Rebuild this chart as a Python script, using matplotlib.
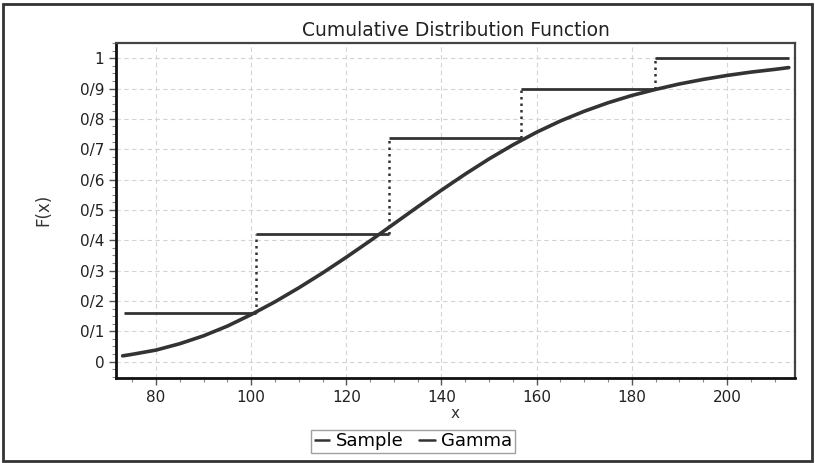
import matplotlib
matplotlib.use("Agg")
import matplotlib.pyplot as plt
from matplotlib.ticker import MultipleLocator, FixedLocator
from matplotlib.patches import Rectangle

plt.rcParams['font.family'] = ['DejaVu Sans']

# Sample (empirical) step CDF
step_edges = [73.3, 101.0, 128.9, 156.7, 184.8, 213.0]
step_levels = [0.159, 0.422, 0.738, 0.897, 1.0]

# Fitted Gamma CDF
gamma_x = [73, 75, 80, 85, 90, 95, 100, 105, 110, 115, 120, 125, 130, 135, 140,
           145, 150, 155, 160, 165, 170, 175, 180, 185, 190, 195, 200, 205,
           210, 213]
gamma_y = [0.019, 0.024, 0.038, 0.059, 0.085, 0.117, 0.155, 0.197, 0.243,
           0.292, 0.344, 0.398, 0.454, 0.510, 0.565, 0.618, 0.668, 0.714,
           0.756, 0.793, 0.825, 0.853, 0.877, 0.897, 0.915, 0.930, 0.943,
           0.954, 0.963, 0.969]

xticks = [80, 100, 120, 140, 160, 180, 200]
yticks = [0, 0.1, 0.2, 0.3, 0.4, 0.5, 0.6, 0.7, 0.8, 0.9, 1.0]
ytick_labels = ['0', '0/1', '0/2', '0/3', '0/4', '0/5', '0/6', '0/7', '0/8', '0/9', '1']

W, H = 815, 463
fig = plt.figure(figsize=(W / 100, H / 100), dpi=100)
ax = fig.add_axes([116 / W, 1 - 377.7 / H, (795 - 116) / W, (377.7 - 43) / H])

col = '#333333'
# horizontal steps
for i, lev in enumerate(step_levels):
    ax.plot([step_edges[i], step_edges[i + 1]], [lev, lev], color=col, lw=2.0,
            solid_capstyle='butt', zorder=3,
            label='Sample' if i == 0 else None)
# dotted verticals
for i in range(1, len(step_levels)):
    ax.plot([step_edges[i], step_edges[i]], [step_levels[i - 1], step_levels[i]],
            color=col, lw=1.8, ls=(0, (1, 1.6)), zorder=3)

ax.plot(gamma_x, gamma_y, color=col, lw=2.6, label='Gamma', zorder=4,
        solid_capstyle='round', solid_joinstyle='round')

ax.set_xlim(71.6, 214.3)
ax.set_ylim(-0.053, 1.05)
ax.xaxis.set_major_locator(FixedLocator(xticks))
ax.xaxis.set_minor_locator(MultipleLocator(5))
ax.yaxis.set_major_locator(FixedLocator(yticks))
ax.set_yticklabels(ytick_labels)
ax.yaxis.set_minor_locator(MultipleLocator(0.025))

ax.tick_params(axis='both', which='major', length=5, width=1, color='#555555',
               labelsize=11, labelcolor='#222222', direction='out')
ax.tick_params(axis='both', which='minor', length=3, width=0.8, color='#888888',
               direction='out')

ax.grid(True, which='major', color='#d4d4d4', ls=(0, (4, 3)), lw=0.8)

for s in ['left', 'bottom']:
    ax.spines[s].set_color('#111111')
    ax.spines[s].set_linewidth(2)
for s in ['top', 'right']:
    ax.spines[s].set_color('#444444')
    ax.spines[s].set_linewidth(1.6)

ax.set_title('Cumulative Distribution Function', fontsize=13.5, color='#222222', pad=5)
ax.set_xlabel('x', fontsize=11, color='#333333', labelpad=1)
ax.set_ylabel('F(x)', fontsize=12, color='#333333', labelpad=20)

leg = ax.legend(loc='center', bbox_to_anchor=(413 / W, 1 - 441.5 / H),
                bbox_transform=fig.transFigure, ncol=2, frameon=True,
                fancybox=False, fontsize=13, handlelength=0.9, handletextpad=0.35,
                columnspacing=0.8, borderpad=0.15, borderaxespad=0)
leg.get_frame().set_edgecolor('#888888')
leg.get_frame().set_linewidth(1.0)
for h in leg.get_lines():
    h.set_linewidth(1.8)
    h.set_linestyle('-')

fig.patches.append(Rectangle((3 / W, 1 - 461 / H), (812 - 3) / W, (461 - 4) / H,
                             transform=fig.transFigure, fill=False,
                             edgecolor='#333333', lw=2))

fig.savefig('out.png', dpi=100)
